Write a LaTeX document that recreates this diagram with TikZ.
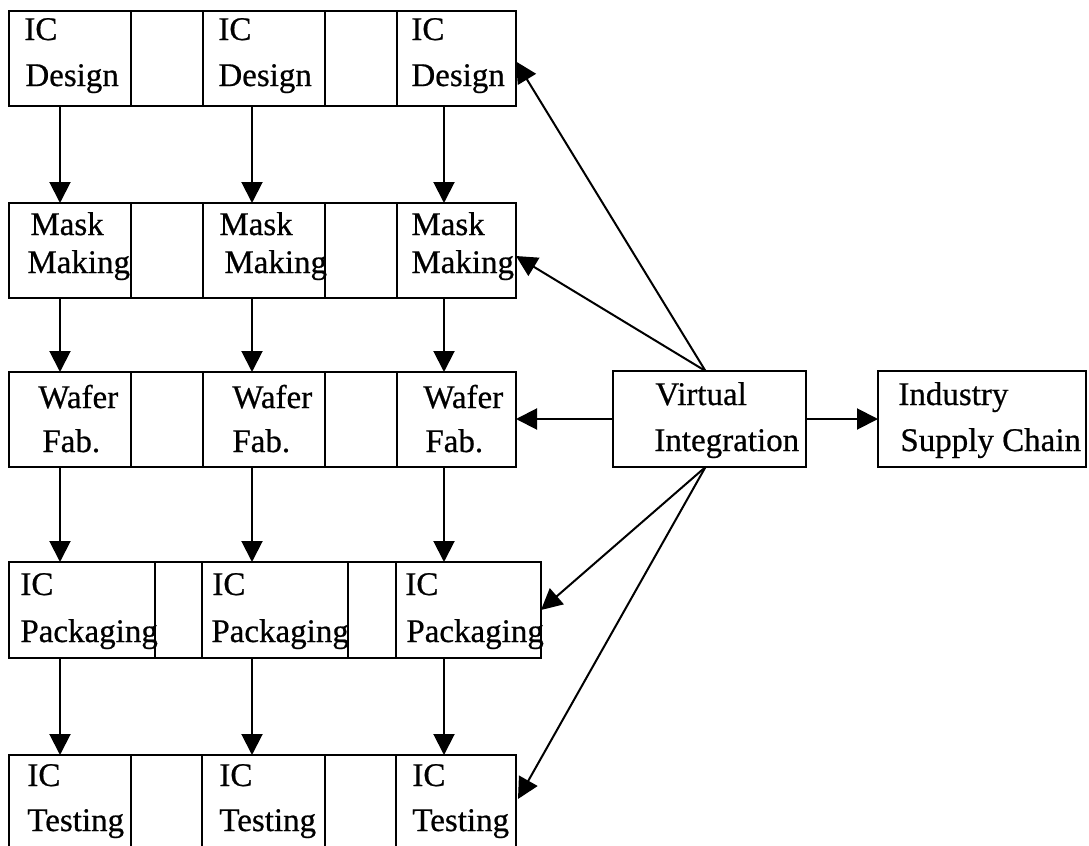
\documentclass[tikz,border=0pt]{standalone}
\usepackage{fontspec}
\setmainfont[FakeBold=0.6]{Liberation Serif}
\usetikzlibrary{arrows.meta,fit}
\begin{document}
\begin{tikzpicture}[x=0.5pt,y=-0.5pt,
  cell/.style={draw, line width=1.1pt, inner sep=0pt, outer sep=0pt},
  txt/.style={anchor=base west, inner sep=0pt, font=\fontsize{16.5}{17}\selectfont},
  arr/.style={line width=1pt, -{Triangle[length=10.5pt,width=10.5pt]}}]
\useasboundingbox (0,0) rectangle (1089,846);
\clip (0,0) rectangle (1089,846);
% ---------- Row 1: IC Design
\node[cell, fit={(9,11) (131,106)}] (d1) {};
\node[cell, fit={(131,11) (203,106)}] (d2) {};
\node[cell, fit={(203,11) (325,106)}] (d3) {};
\node[cell, fit={(325,11) (397,106)}] (d4) {};
\node[cell, fit={(397,11) (516,106)}] (d5) {};
\node[txt] (d1a) at (24,40) {IC};   \node[txt] (d1b) at (25,86) {Design};
\node[txt] (d3a) at (218,40) {IC};  \node[txt] (d3b) at (218,86) {Design};
\node[txt] (d5a) at (411,40) {IC};  \node[txt] (d5b) at (411,86) {Design};
% ---------- Row 2: Mask Making
\node[cell, fit={(9,203) (131,298)}] (m1) {};
\node[cell, fit={(131,203) (203,298)}] (m2) {};
\node[cell, fit={(203,203) (325,298)}] (m3) {};
\node[cell, fit={(325,203) (397,298)}] (m4) {};
\node[cell, fit={(397,203) (516,298)}] (m5) {};
\node[txt] (m1a) at (30,235) {Mask};   \node[txt] (m1b) at (27,273) {Making};
\node[txt] (m3a) at (219,235) {Mask};  \node[txt] (m3b) at (224,273) {Making};
\node[txt] (m5a) at (411,235) {Mask};  \node[txt] (m5b) at (411,273) {Making};
% ---------- Row 3: Wafer Fab.
\node[cell, fit={(9,372) (131,467)}] (w1) {};
\node[cell, fit={(131,372) (203,467)}] (w2) {};
\node[cell, fit={(203,372) (325,467)}] (w3) {};
\node[cell, fit={(325,372) (397,467)}] (w4) {};
\node[cell, fit={(397,372) (516,467)}] (w5) {};
\node[txt] (w1a) at (38,408) {Wafer};   \node[txt] (w1b) at (42,452) {Fab.};
\node[txt] (w3a) at (232,408) {Wafer};  \node[txt] (w3b) at (232,452) {Fab.};
\node[txt] (w5a) at (423,408) {Wafer};  \node[txt] (w5b) at (425,452) {Fab.};
% ---------- Row 4: IC Packaging
\node[cell, fit={(9,562) (155,658)}] (p1) {};
\node[cell, fit={(155,562) (202,658)}] (p2) {};
\node[cell, fit={(202,562) (348,658)}] (p3) {};
\node[cell, fit={(348,562) (396,658)}] (p4) {};
\node[cell, fit={(396,562) (541,658)}] (p5) {};
\node[txt] (p1a) at (20,595) {IC};   \node[txt] (p1b) at (20,642) {Packaging};
\node[txt] (p3a) at (212,595) {IC};  \node[txt] (p3b) at (211,642) {Packaging};
\node[txt] (p5a) at (405,595) {IC};  \node[txt] (p5b) at (406,642) {Packaging};
% ---------- Row 5: IC Testing
\node[cell, fit={(9,755) (131,880)}] (t1) {};
\node[cell, fit={(131,755) (202,880)}] (t2) {};
\node[cell, fit={(202,755) (325,880)}] (t3) {};
\node[cell, fit={(325,755) (396,880)}] (t4) {};
\node[cell, fit={(396,755) (516,880)}] (t5) {};
\node[txt] (t1a) at (27,786) {IC};   \node[txt] (t1b) at (27,831) {Testing};
\node[txt] (t3a) at (219,786) {IC};  \node[txt] (t3b) at (219,831) {Testing};
\node[txt] (t5a) at (412,786) {IC};  \node[txt] (t5b) at (412,831) {Testing};
% ---------- Right boxes
\node[cell, fit={(613,371) (806,467)}] (vi) {};
\node[txt] (via) at (655,405) {Virtual};
\node[txt] (vib) at (654,451) {Integration};
\node[cell, fit={(878,371) (1086,467)}] (isc) {};
\node[txt] (isca) at (898,405) {Industry};
\node[txt] (iscb) at (900,451) {Supply Chain};
% ---------- column coordinates
\coordinate (c1) at (60,0);
\coordinate (c2) at (252,0);
\coordinate (c3) at (444,0);
% ---------- vertical arrows
\foreach \a/\b in {d1/m1,m1/w1,w1/p1,p1/t1}{
  \draw[arr] (\a.south -| c1) -- (\b.north -| c1);}
\foreach \a/\b in {d3/m3,m3/w3,w3/p3,p3/t3}{
  \draw[arr] (\a.south -| c2) -- (\b.north -| c2);}
\foreach \a/\b in {d5/m5,m5/w5,w5/p5,p5/t5}{
  \draw[arr] (\a.south -| c3) -- (\b.north -| c3);}
% ---------- arrows from Virtual Integration
\coordinate (vtop) at ([xshift=-2pt]vi.north);
\coordinate (vbot) at ([xshift=-2pt]vi.south);
\draw[arr] (vtop) -- ([yshift=-1.5pt]d5.east);
\draw[arr] (vtop) -- ([yshift=-2.75pt]m5.east);
\draw[arr] (vi.west) -- (vi.west -| w5.east);
\draw[arr] (vbot) -- (p5.east);
\draw[arr] (vbot) -- ([xshift=1pt,yshift=-22pt]t5.north east);
\draw[arr] (vi.east) -- (vi.east -| isc.west);
\end{tikzpicture}
\end{document}
